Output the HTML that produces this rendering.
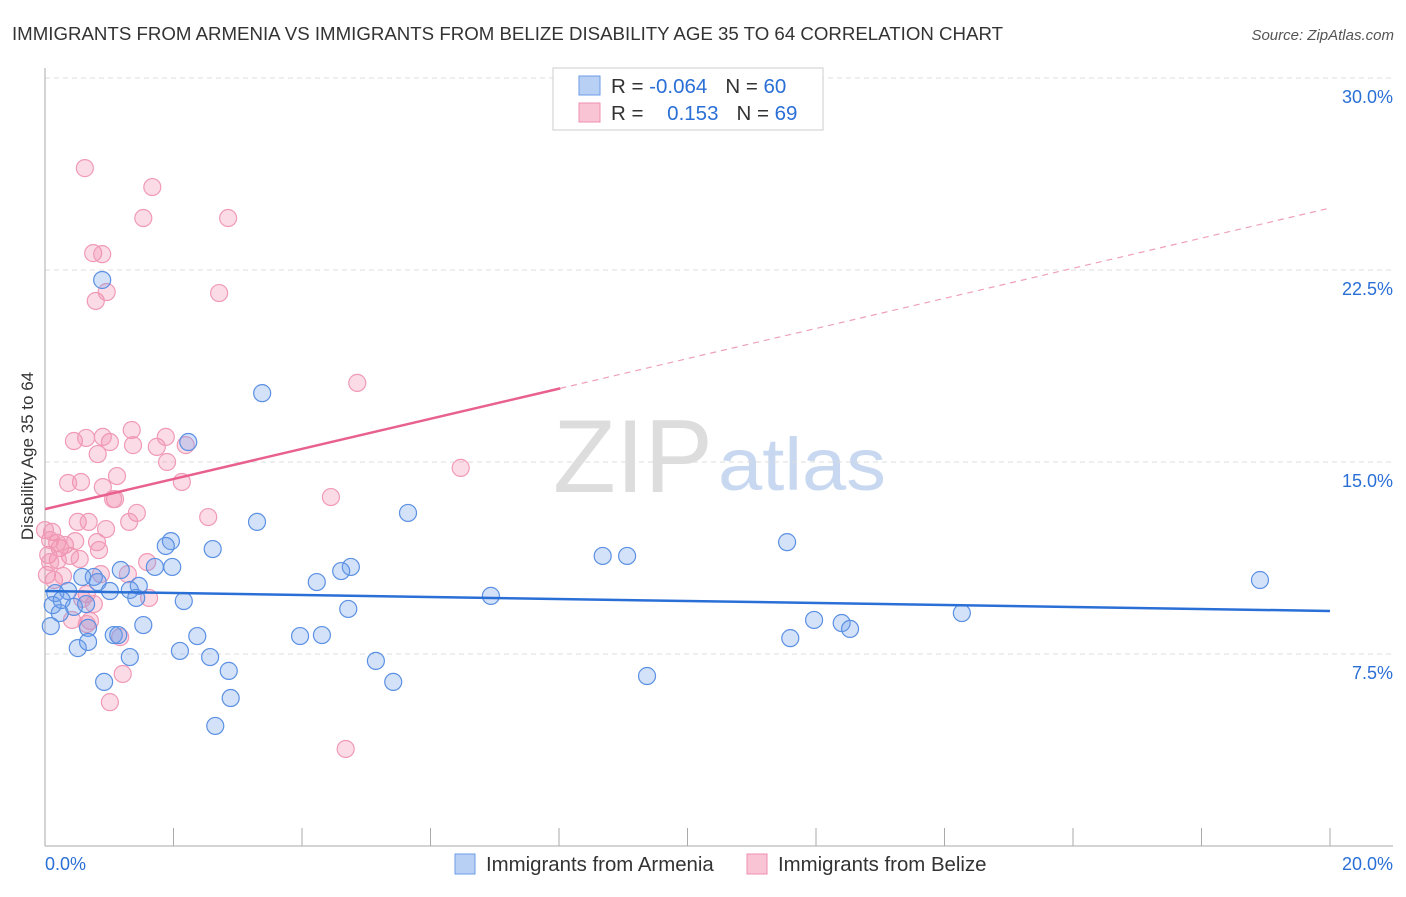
<!DOCTYPE html>
<html><head><meta charset="utf-8"><style>
body{margin:0;background:#fff;font-family:"Liberation Sans",sans-serif;}
svg text{font-family:"Liberation Sans",sans-serif;}
</style></head><body>
<svg id="chart" width="1406" height="892" xmlns="http://www.w3.org/2000/svg">
<text x="12" y="40" font-size="18.5" fill="#333" textLength="991" lengthAdjust="spacingAndGlyphs">IMMIGRANTS FROM ARMENIA VS IMMIGRANTS FROM BELIZE DISABILITY AGE 35 TO 64 CORRELATION CHART</text>
<text x="1394" y="40" font-size="15" fill="#555" text-anchor="end" font-style="italic">Source: ZipAtlas.com</text>
<text x="553" y="492" font-size="104" fill="#ddd" font-family="Liberation Serif,serif" textLength="160" lengthAdjust="spacingAndGlyphs">ZIP</text>
<text x="718" y="490" font-size="74" fill="#c8d8f0" textLength="168" lengthAdjust="spacingAndGlyphs">atlas</text>
<text transform="translate(33,456) rotate(-90)" font-size="17" fill="#333" text-anchor="middle">Disability Age 35 to 64</text>
<g id="grid"></g><g id="pts"></g><g id="lines"></g>
<g>
<rect x="553" y="68" width="270" height="62" fill="#fff" stroke="#ccc"/>
<rect x="579" y="76" width="21" height="19" fill="#b8d0f4" stroke="#6b9be6"/>
<rect x="579" y="103" width="21" height="19" fill="#f9c4d4" stroke="#ef8fb0"/>
<text x="611" y="93" font-size="20.5" fill="#333">R = <tspan fill="#2a6fd6">-0.064</tspan><tspan dx="18">N = </tspan><tspan fill="#2a6fd6">60</tspan></text>
<text x="611" y="120" font-size="20.5" fill="#333">R = <tspan fill="#2a6fd6" dx="18">0.153</tspan><tspan dx="18">N = </tspan><tspan fill="#2a6fd6">69</tspan></text>
</g>
<g>
<rect x="455" y="854" width="20" height="20" fill="#b8d0f4" stroke="#6b9be6"/>
<text x="486" y="871" font-size="20.4" fill="#333">Immigrants from Armenia</text>
<rect x="747" y="854" width="20" height="20" fill="#f9c4d4" stroke="#ef8fb0"/>
<text x="778" y="871" font-size="20.4" fill="#333">Immigrants from Belize</text>
</g>
</svg>
<script>
const yTicks=[7.5,15,22.5,30];
const yTickLabels=["7.5%","15.0%","22.5%","30.0%"];
const xTicks=[0,2,4,6,8,10,12,14,16,18,20];
const xLabels=["0.0%","20.0%"];
const blueX=[0.89,3.38,2.23,3.30,5.65,1.96,1.88,2.61,8.68,9.06,11.55,4.76,4.61,4.23,1.98,1.71,1.18,0.76,0.58,0.82,1.46,1.32,1.01,0.36,0.16,1.42,2.16,6.94,4.72,0.64,0.45,0.23,18.91,14.27,11.97,12.40,12.53,0.09,1.53,0.67,1.07,1.14,2.37,3.97,4.31,11.60,0.51,0.67,2.10,1.32,2.57,5.15,2.86,0.92,5.42,9.37,2.89,2.65,0.12,0.26];
const blueY=[22.11,17.69,15.78,12.66,13.01,11.91,11.72,11.60,11.33,11.33,11.87,10.90,10.74,10.31,10.90,10.90,10.78,10.51,10.51,10.31,10.16,10.00,9.96,9.96,9.88,9.69,9.57,9.77,9.26,9.45,9.34,9.10,10.39,9.10,8.83,8.71,8.48,8.59,8.63,8.52,8.24,8.24,8.20,8.20,8.24,8.12,7.73,7.97,7.62,7.38,7.38,7.23,6.84,6.41,6.41,6.64,5.78,4.69,9.41,9.61];
const pinkX=[0.62,1.67,1.53,2.85,0.75,0.89,0.79,0.96,2.71,4.86,6.47,4.45,0.45,0.64,1.01,0.90,1.35,1.37,1.74,1.88,2.19,1.90,0.82,0.56,0.36,0.90,1.12,1.09,1.06,1.43,2.13,2.54,1.31,0.51,0.68,0.95,0.23,0.11,0.05,0.19,0.31,0.39,0.03,0.14,0.20,0.47,0.84,0.81,0.54,0.87,0.28,1.59,0.65,0.76,1.62,1.29,0.58,0.70,0.42,0.65,1.17,1.21,1.01,4.68,0.08,0.08,0.0];
const pinkY=[26.48,25.74,24.53,24.53,23.16,23.12,21.29,21.64,21.60,18.09,14.77,13.63,15.82,15.94,15.78,15.98,16.25,15.66,15.59,15.98,15.66,15.00,15.31,14.22,14.18,14.02,14.45,13.55,13.55,13.01,14.22,12.85,12.66,12.66,12.66,12.38,11.64,12.27,11.37,11.84,11.76,11.33,10.59,10.39,11.17,11.91,11.56,11.87,11.21,10.62,10.55,11.09,9.84,9.45,9.69,10.62,9.65,8.79,8.83,8.67,8.16,6.72,5.62,3.79,11.95,11.09,12.34];
const blueTrend=[9.96,9.18];
const pinkTrend=[13.16,24.92];
const pinkSolidEnd=8.02;
const NS="http://www.w3.org/2000/svg";
const X=v=>45+v/20*1285, Y=v=>846-v/7.5*192;
function mk(t,a,p){const e=document.createElementNS(NS,t);for(const k in a)e.setAttribute(k,a[k]);p.appendChild(e);return e;}
const g=document.getElementById('grid');
yTicks.forEach((t,i)=>{
 const l=mk('line',{x1:45,x2:1393,y1:Y(t),y2:Y(t),stroke:'#ddd','stroke-dasharray':'5,4'},g);
 
 
 const tx=mk('text',{x:1393,y:Y(t)+25,'font-size':18,fill:'#2a6fd6','text-anchor':'end'},g);
 tx.textContent=yTickLabels[i];
 
 
});
let ax=mk('line',{x1:45,x2:45,y1:68,y2:846,stroke:'#aaa'},g);


ax=mk('line',{x1:45,x2:1393,y1:846,y2:846,stroke:'#aaa'},g);


xTicks.forEach(t=>{const l=mk('line',{x1:X(t),x2:X(t),y1:828,y2:846,stroke:'#aaa'},g);
 
 });
let t1=mk('text',{x:45,y:870,'font-size':18,fill:'#2a6fd6'},g);t1.textContent=xLabels[0];


let t2=mk('text',{x:1393,y:870,'font-size':18,fill:'#2a6fd6','text-anchor':'end'},g);t2.textContent=xLabels[1];


const p=document.getElementById('pts');
pinkX.forEach((x,i)=>{const c=mk('circle',{cx:X(x),cy:Y(pinkY[i]),r:8.5,fill:'rgba(242,140,172,0.3)',stroke:'#f09ab6','stroke-width':1.2},p);
 
 });
blueX.forEach((x,i)=>{const c=mk('circle',{cx:X(x),cy:Y(blueY[i]),r:8.5,fill:'rgba(110,160,235,0.3)',stroke:'#5b90e2','stroke-width':1.2},p);
 
 });
const L=document.getElementById('lines');
const pv=x=>pinkTrend[0]+(pinkTrend[1]-pinkTrend[0])*x/20;
let a=mk('line',{x1:X(0),y1:Y(blueTrend[0]),x2:X(20),y2:Y(blueTrend[1]),stroke:'#2a6fd6','stroke-width':2.5},L);


a=mk('line',{x1:X(0),y1:Y(pv(0)),x2:X(pinkSolidEnd),y2:Y(pv(pinkSolidEnd)),stroke:'#e8608e','stroke-width':2.5},L);


a=mk('line',{x1:X(pinkSolidEnd),y1:Y(pv(pinkSolidEnd)),x2:X(20),y2:Y(pv(20)),stroke:'#eea0ba','stroke-width':1.2,'stroke-dasharray':'6,5'},L);


</script>
</body></html>
